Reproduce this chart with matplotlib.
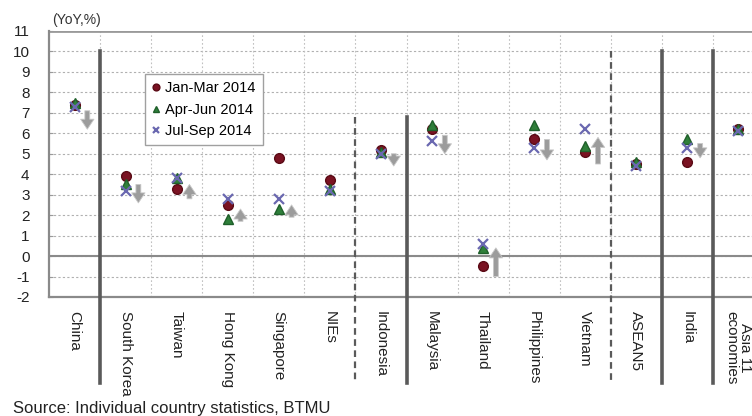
import numpy as np
import matplotlib
matplotlib.use("Agg")
from matplotlib import pyplot as plt

plt.rcParams['font.family'] = ['Liberation Sans', 'DejaVu Sans']
plt.rcParams['axes.unicode_minus'] = False

countries = ["China", "South Korea", "Taiwan", "Hong Kong", "Singapore", "NIEs",
             "Indonesia", "Malaysia", "Thailand", "Philippines", "Vietnam", "ASEAN5",
             "India", "Asia 11\neconomies"]
jan_mar = [7.4, 3.9, 3.3, 2.5, 4.8, 3.7, 5.2, 6.2, -0.5, 5.7, 5.1, 4.5, 4.6, 6.2]
apr_jun = [7.5, 3.5, 3.8, 1.8, 2.3, 3.3, 5.1, 6.4, 0.4, 6.4, 5.4, 4.6, 5.7, 6.2]
jul_sep = [7.3, 3.2, 3.8, 2.8, 2.8, 3.2, 5.0, 5.6, 0.6, 5.3, 6.2, 4.4, 5.3, 6.1]

# grey arrows: (start, end) of the change, None where no arrow
arrow_from = [7.1, 3.5, 2.8, 1.7, 1.9, None, 5.0, 5.9, -1.0, 5.7, 4.5, None, 5.5, None]
arrow_to = [6.2, 2.6, 3.5, 2.3, 2.5, None, 4.4, 5.0, 0.4, 4.7, 5.8, None, 4.8, None]

# separators between groups: (x, top, style)
sep_x = [0.5, 5.5, 6.5, 10.5, 11.5, 12.5]
sep_top = [10, 6.8, 6.8, 10, 10, 10]
sep_style = ['-', '--', '-', '--', '-', '-']

fig = plt.figure(figsize=(7.52, 4.16), dpi=100)
ax = fig.add_axes([49 / 752, 119 / 416, 715 / 752, 266 / 416])

x = np.arange(len(countries))

# grid
for v in range(-1, 11):
    ax.axhline(v, color='#b0b0b0', lw=0.8, ls=(0, (2, 2)), zorder=1)
for b in x[:-1] + 0.5:
    ax.axvline(b, color='#c0c0c0', lw=0.8, ls=(0, (1.5, 2)), zorder=1)
ax.axhline(0, color='#8a8a8a', lw=1.5, zorder=2)
ax.axhline(11, color='#9a9a9a', lw=2, zorder=2)

for sx, st, ss in zip(sep_x, sep_top, sep_style):
    ax.plot([sx, sx], [st, -6.2], color='#5a5a5a', lw=2.6 if ss == '-' else 1.6,
            ls='-' if ss == '-' else (0, (3, 2)), clip_on=False, zorder=3)

for i in range(len(countries)):
    if arrow_from[i] is None:
        continue
    ax.annotate("", xy=(x[i] + 0.25, arrow_to[i]), xytext=(x[i] + 0.25, arrow_from[i]),
                arrowprops=dict(arrowstyle='simple,head_width=0.6,head_length=0.45,tail_width=0.22',
                                mutation_scale=16, shrinkA=0, shrinkB=0,
                                fc='#9c9c9c', ec='#c8c8c8', lw=0.6), zorder=4)

ax.plot(x, jan_mar, ls='none', marker='o', ms=7, color='#7a1222', mec='#5a0a15',
        label='Jan-Mar 2014', zorder=5)
ax.plot(x, apr_jun, ls='none', marker='^', ms=7, color='#2f7f3a', mec='#1f5f2a',
        label='Apr-Jun 2014', zorder=6)
ax.plot(x, jul_sep, ls='none', marker='x', ms=7, mew=1.6, color='#6a68b0',
        label='Jul-Sep 2014', zorder=7)

ax.set_xlim(-0.5, 13.5)
ax.set_ylim(-2, 11)
ax.set_yticks(range(-2, 12))
ax.set_xticks(x)
ax.set_xticklabels(countries, rotation=270, va='top', ha='center', fontsize=11,
                   color='#222222', linespacing=1.0)
ax.tick_params(axis='x', length=0, pad=10)
ax.tick_params(axis='y', length=3, direction='in', pad=14, labelsize=11, colors='#9a9a9a',
               labelcolor='#222222')

for s in ['top', 'right']:
    ax.spines[s].set_visible(False)
for s in ['left', 'bottom']:
    ax.spines[s].set_color('#8a8a8a')
    ax.spines[s].set_linewidth(1.6)

leg = ax.legend(loc='upper left', bbox_to_anchor=(0.134, 0.838), borderaxespad=0,
                fontsize=10.5, frameon=True, fancybox=False, framealpha=1, edgecolor='#a0a0a0',
                handlelength=0.6, handletextpad=0.3, borderpad=0.5, labelspacing=0.5,
                markerscale=0.7)
leg.get_frame().set_linewidth(1.0)
leg.set_zorder(10)

fig.text(52 / 752, 1 - 20 / 416, "(YoY,%)", fontsize=10, color='#333333', va='center')
fig.text(13 / 752, 1 - 408 / 416, "Source: Individual country statistics, BTMU",
         fontsize=12, color='#222222', va='center')

plt.savefig("out.png", dpi=100)
